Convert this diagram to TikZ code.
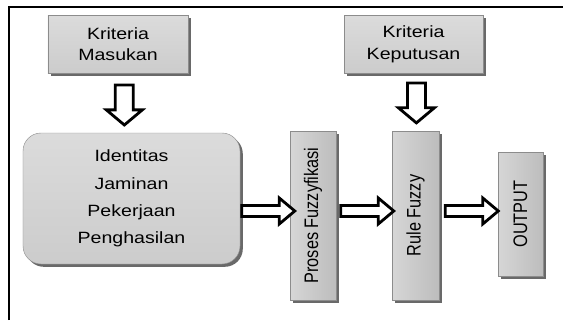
\documentclass[tikz,border=0pt]{standalone}
\usepackage{fontspec}
\setmainfont{Liberation Sans}
\usepackage{tikz}
\usetikzlibrary{shapes.arrows, shadows}
\usepackage{graphicx}
\newcommand{\hs}[1]{\scalebox{1.2}[1]{#1}}
\newcommand{\vs}[1]{\rotatebox{90}{\scalebox{1}[1.2]{#1}}}

\begin{document}
\begin{tikzpicture}[x=0.25mm, y=-0.25mm,
	box/.style={draw=black!45, line width=0.3pt, inner sep=0pt, align=center,
		top color=black!14, middle color=black!28, bottom color=black!20,
		drop shadow={shadow xshift=0.7mm, shadow yshift=-0.7mm, fill=black!65, opacity=0.9},
		font=\fontsize{11.6pt}{15.4pt}\selectfont},
	tallbox/.style={box, left color=black!16, right color=black!26},
	bigarrow/.style={single arrow, draw=black, fill=white, line width=0.7mm, inner xsep=0pt},
	rightarrow/.style={bigarrow, minimum height=13.25mm, inner ysep=1.025mm,
		single arrow head extend=1.875mm, single arrow tip angle=80},
	downarrow/.style={bigarrow, rotate=-90, minimum height=10mm, inner ysep=1.9mm,
		single arrow head extend=2.25mm, single arrow tip angle=100}]
	\useasboundingbox (0,0) rectangle (563,320);
	\draw[line width=0.5mm] (9,320) |- (563,7);
	\node[box, minimum width=35mm, minimum height=14.5mm] (km) at (118,44) {\hs{Kriteria}\\\hs{Masukan}};
	\node[box, minimum width=34.75mm, minimum height=14.5mm] (kk) at (413.5,44) {\hs{Kriteria}\\\hs{Keputusan}};
	\node[box, rounded corners=4.5mm, minimum width=54.25mm, minimum height=32.75mm,
		font=\fontsize{11.6pt}{19.5pt}\selectfont] (data) at (131.5,198.5)
		{\hs{Identitas}\\\hs{Jaminan}\\\hs{Pekerjaan}\\\hs{Penghasilan}};
	\node[tallbox, minimum width=11.5mm, minimum height=42.25mm] (pf) at (313,215.5) {\vs{Proses Fuzzyfikasi}};
	\node[tallbox, minimum width=11.75mm, minimum height=42.25mm] (rf) at (415.5,215.5) {\vs{Rule Fuzzy}};
	\node[tallbox, minimum width=11.25mm, minimum height=31mm] (out) at (520.5,214) {\vs{OUTPUT}};
	\coordinate (row) at (0,211);
	\path (km.south) -- (data.north) node [pos=.47, downarrow] {};
	\path (kk.south) -- (rf.north) node [pos=.45, xshift=0.5mm, downarrow] {};
	\path (data.east |- row) -- (pf.west |- row) node [midway, rightarrow] {};
	\path (pf.east |- row) -- (rf.west |- row) node [midway, rightarrow] {};
	\path (rf.east |- row) -- (out.west |- row) node [midway, rightarrow] {};
\end{tikzpicture}
\end{document}
